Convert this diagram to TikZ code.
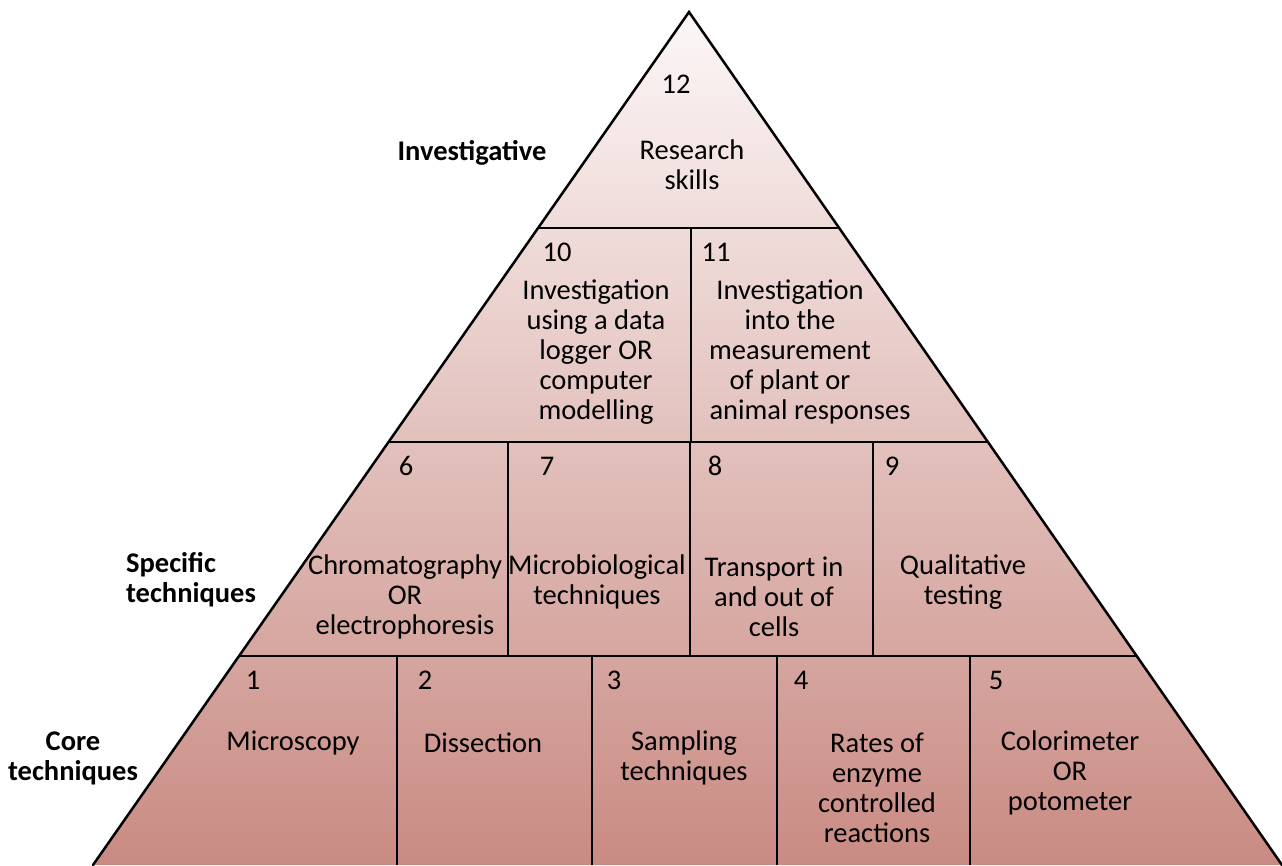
\documentclass[tikz,border=0pt]{standalone}
\usepackage{fontspec}
\setmainfont{Carlito}
\usetikzlibrary{calc}
\definecolor{topc}{RGB}{252,247,247}
\definecolor{botc}{RGB}{201,139,131}
\tikzset{
  edge/.style={line width=2.5pt, black, line join=miter, line cap=round},
  cellline/.style={line width=2pt, black},
  lbl/.style={font=\fontsize{28.5}{30}\selectfont, align=center, inner sep=0pt},
  num/.style={font=\fontsize{28.5}{30}\selectfont, inner sep=0pt},
  side/.style={font=\fontsize{28.5}{30}\selectfont\bfseries, inner sep=0pt},
}
\begin{document}
\begin{tikzpicture}[x=1pt,y=-1pt]
\useasboundingbox (0,0) rectangle (1282,865);
\coordinate (A) at (689,12);
\coordinate (L) at (93,865);
\coordinate (R) at (1282,865);
\shade[top color=topc, bottom color=botc] (A) -- (L) -- (R) -- cycle;
% tier boundaries
\coordinate (l1) at ($(A)!0.2532!(L)$);
\coordinate (r1) at ($(A)!0.2532!(R)$);
\coordinate (l2) at ($(A)!0.5041!(L)$);
\coordinate (r2) at ($(A)!0.5041!(R)$);
\coordinate (l3) at ($(A)!0.7550!(L)$);
\coordinate (r3) at ($(A)!0.7550!(R)$);
\draw[cellline] (l1) -- (r1);
\draw[cellline] (l2) -- (r2);
\draw[cellline] (l3) -- (r3);
% dividers
\coordinate (d10t) at (691,228); \coordinate (d10b) at (691,442);
\draw[cellline] (d10t) -- (d10b);
\coordinate (d6t) at (508,442); \coordinate (d6b) at (508,656);
\coordinate (d7t) at (690,442); \coordinate (d7b) at (690,656);
\coordinate (d8t) at (873,442); \coordinate (d8b) at (873,656);
\draw[cellline] (d6t) -- (d6b);
\draw[cellline] (d7t) -- (d7b);
\draw[cellline] (d8t) -- (d8b);
\coordinate (d1t) at (397,656); \coordinate (d1b) at (397,865);
\coordinate (d2t) at (592,656); \coordinate (d2b) at (592,865);
\coordinate (d3t) at (777,656); \coordinate (d3b) at (777,865);
\coordinate (d4t) at (970,656); \coordinate (d4b) at (970,865);
\draw[cellline] (d1t) -- (d1b);
\draw[cellline] (d2t) -- (d2b);
\draw[cellline] (d3t) -- (d3b);
\draw[cellline] (d4t) -- (d4b);
% outer edges
\draw[edge] (L) -- (A) -- (R);
% top tier
\node[num] (n12) at (676,84) {12};
\node[lbl] (t12) at (692,165) {Research\\skills};
% second tier
\node[num] (n10) at (557,252) {10};
\node[lbl] (t10) at (596,352) {Investigation\\using a data\\logger OR\\computer\\modelling};
\node[num] (n11) at (716,252) {11};
\node[lbl] (t11) at (790,352) {Investigation\\into the\\measurement\\of plant or\\\hspace*{40pt}animal responses};
% third tier
\node[num] (n6) at (406,466) {6};
\node[num] (n7) at (547,466) {7};
\node[num] (n8) at (715,466) {8};
\node[num] (n9) at (892,466) {9};
\node[lbl] (t6) at (405,597) {Chromatography\\OR\\electrophoresis};
\node[lbl] (t7) at (597,582) {Microbiological\\techniques};
\node[lbl] (t8) at (774,597) {Transport in\\and out of\\cells};
\node[lbl] (t9) at (963,582) {Qualitative\\testing};
% bottom tier
\node[num] (n1) at (253,680) {1};
\node[num] (n2) at (425,680) {2};
\node[num] (n3) at (614,680) {3};
\node[num] (n4) at (801,680) {4};
\node[num] (n5) at (996,680) {5};
\node[lbl] (t1) at (293,743) {Microscopy};
\node[lbl] (t2) at (483,743) {Dissection};
\node[lbl] (t3) at (684,758) {Sampling\\techniques};
\node[lbl] (t4) at (877,788) {Rates of\\enzyme\\controlled\\reactions};
\node[lbl] (t5) at (1070,773) {Colorimeter\\OR\\potometer};
% side labels
\node[side] (s3) at (472,153) {Investigative};
\node[side, align=left, anchor=west] (s2) at (126,580) {Specific\\techniques};
\node[side, align=center] (s1) at (73,758) {Core\\techniques};
\end{tikzpicture}
\end{document}
